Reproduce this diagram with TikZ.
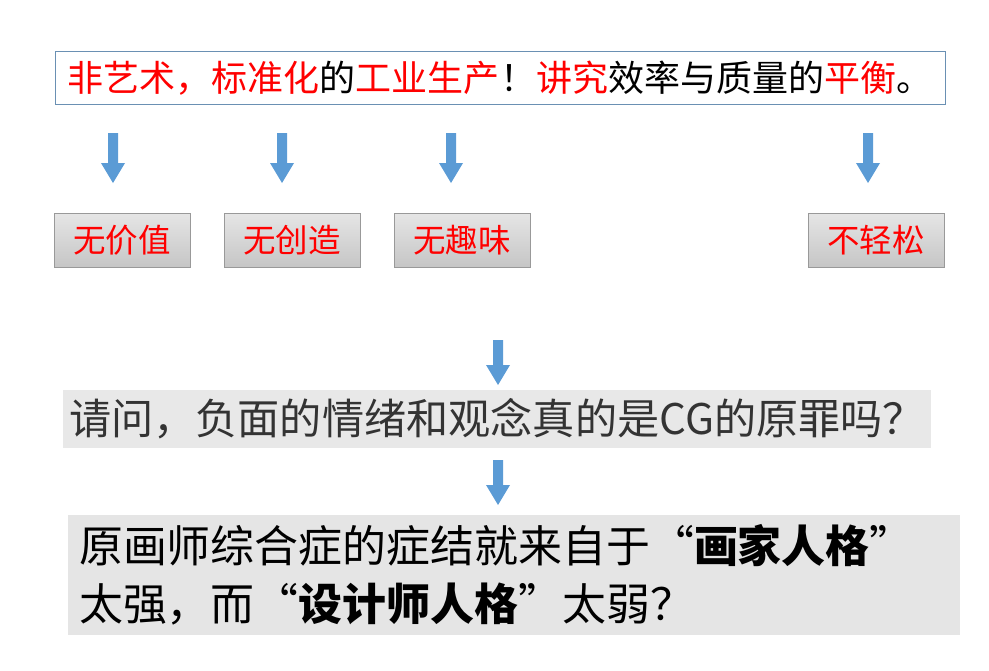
\documentclass[tikz,border=0pt]{standalone}
\usepackage{fontspec}
\setmainfont{Noto Sans CJK SC}
\definecolor{arrowblue}{HTML}{5B9BD5}
\definecolor{txtred}{HTML}{FF0000}
\newcommand{\rd}[1]{\textcolor{txtred}{#1}}
% block arrow pointing down: name, x, top y, bottom y
\newcommand{\blockdown}[4]{%
  \coordinate (#1) at (#2,#3);
  \fill [arrowblue] ($(#1)+(-5,0)$) -- ($(#1)+(5,0)$) -- ($(#1)+(5,#4-#3-20)$) -- ($(#1)+(12,#4-#3-20)$)
     -- ($(#1)+(0,#4-#3)$) -- ($(#1)+(-12,#4-#3-20)$) -- ($(#1)+(-5,#4-#3-20)$) -- cycle;}
\usetikzlibrary{calc}

\begin{document}
\begin{tikzpicture}[x=0.02cm, y=-0.02cm,
        title_style/.style={draw=arrowblue!60!gray, thin, fill=white, minimum width=17.8cm, minimum height=1.06cm, font=\fontsize{20.5}{24}\selectfont},
        tag_style/.style={draw=gray!80, top color=gray!20, bottom color=gray!45, minimum width=2.72cm, minimum height=1.08cm, text=txtred, font=\fontsize{18.5}{22}\selectfont},
        bar_style/.style={fill=gray!18, minimum width=16.5cm, minimum height=1.16cm, font=\fontsize{24}{28}\selectfont, text=black!80},
        note_style/.style={fill=gray!20, minimum width=17.84cm, minimum height=2.4cm, font=\fontsize{25}{33}\selectfont, align=left, text width=17.4cm}]
        \useasboundingbox (0,0) rectangle (989,670);

        \node [title_style](title) at (500,78) {\rd{非艺术，标准化}的\rd{工业生产}！\rd{讲究}效率与质量的\rd{平衡}。};

        \blockdown{d1}{113}{133}{183}
        \blockdown{d2}{282}{133}{183}
        \blockdown{d3}{451}{133}{183}
        \blockdown{d4}{868}{133}{183}

        \node [tag_style](t1) at (122,240) {无价值};
        \node [tag_style](t2) at (292,240) {无创造};
        \node [tag_style](t3) at (462,240) {无趣味};
        \node [tag_style](t4) at (876,240) {不轻松};

        \blockdown{d5}{498}{340}{385}
        \node [bar_style](ask) at (497,419) {请问，负面的情绪和观念真的是CG的原罪吗？};
        \blockdown{d6}{498}{460}{505}

        \node [note_style](note) at (514,575) {原画师综合症的症结就来自于“\textbf{画家人格}”\\太强，而“\textbf{设计师人格}”太弱？};
\end{tikzpicture}
\end{document}
